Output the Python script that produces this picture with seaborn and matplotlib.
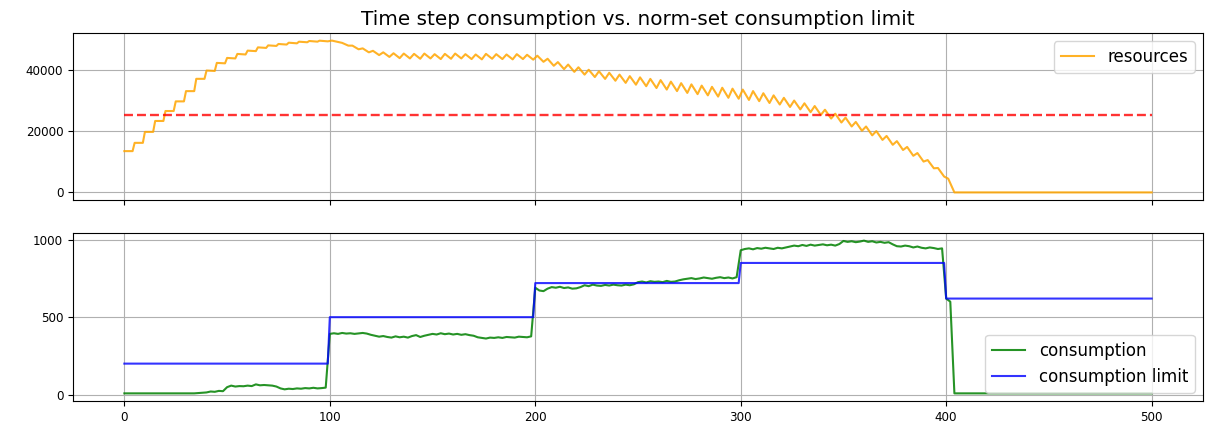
import numpy as np
import pandas as pd
import matplotlib
matplotlib.use("Agg")
import matplotlib.pyplot as plt
import seaborn as sns

# ---------------- data ----------------
# resources: value at the high (peak) and low (trough) point of each 5-step block, t = 0..404
res_peak = [13530, 16240, 19830, 23410, 26670, 29830, 33190, 37220, 39940, 42440,
            44070, 45380, 46460, 47530, 48180, 48640, 49060, 49390, 49620, 49720,
            49750, 49000, 48100, 47200, 46400, 45900, 45600, 45500, 45400, 45500,
            45300, 45400, 45500, 45300, 45200, 45400, 45300, 45200, 45300, 45100,
            44800, 43800, 42700, 41900, 41000, 40200, 39700, 39200, 38600, 38100,
            37700, 37200, 36800, 36300, 35800, 35400, 35000, 34600, 34300, 34000,
            33700, 33200, 32500, 31800, 31000, 30100, 29200, 28300, 27100, 25800,
            24500, 23100, 21600, 20100, 18500, 16800, 14900, 12900, 10600, 8000,
            4500]
res_trough = [13530, 16240, 19830, 23410, 26670, 29830, 33190, 37220, 39800, 42300,
              43900, 45200, 46300, 47350, 48000, 48450, 48850, 49200, 49400, 49500,
              49300, 48100, 46900, 45900, 45000, 44400, 44000, 43900, 43800, 43900,
              43700, 43800, 43900, 43700, 43600, 43800, 43700, 43600, 43700, 43500,
              42800, 41500, 40400, 39500, 38600, 37800, 37200, 36600, 35900, 35300,
              34800, 34200, 33700, 33200, 32600, 32200, 31800, 31400, 31000, 30700,
              30300, 29900, 29300, 28800, 28000, 27200, 26300, 25400, 24200, 22900,
              21600, 20200, 18700, 17200, 15600, 13900, 12000, 10100, 7900, 5200,
              0]
res_block_len = 5
res_stair_blocks = 20          # blocks drawn as flat stairs (t < 100)
res_final_t = 500
res_final_value = 0

norm_limit = 25500
time_steps = np.arange(0, 501)

# consumption sampled every 2 time steps
cons_step = 2
cons_0_98 = [8] * 18 + [10, 12, 14, 20, 18, 24, 22] + [
    48, 58, 52, 55, 54, 58, 55, 66, 60, 62, 60, 58, 52, 40, 34, 38, 36, 40, 38, 42,
    40, 44, 40, 42, 45]
cons_100_198 = [392, 396, 392, 398, 394, 396, 392, 395, 398, 394,
                386, 380, 374, 378, 372, 368, 376, 370, 374, 368,
                378, 384, 372, 380, 386, 392, 388, 396, 390, 394,
                388, 392, 386, 390, 384, 380, 370, 366, 362, 368,
                366, 370, 366, 372, 370, 368, 374, 372, 370, 376]
cons_200_298 = [690, 672, 668, 684, 694, 690, 696, 688, 692, 684,
                686, 694, 706, 700, 710, 704, 702, 708, 704, 710,
                706, 704, 710, 706, 712, 726, 730, 724, 732, 728,
                730, 726, 734, 728, 730, 738, 744, 748, 752, 746,
                750, 756, 752, 748, 754, 758, 752, 756, 750, 758]
cons_300_398 = [932, 940, 944, 938, 946, 942, 948, 944, 940, 948,
                944, 950, 956, 962, 958, 966, 960, 968, 962, 966,
                970, 964, 968, 962, 972, 992, 986, 990, 984, 988,
                994, 986, 990, 982, 986, 980, 984, 970, 958, 956,
                962, 958, 950, 956, 948, 944, 950, 946, 940, 944]
cons_400_500 = [620, 600] + [8] * 49

# consumption limit per period of 100 steps
limit_levels = [200, 500, 720, 850, 620]
limit_period = 100

# ---------------- build tables ----------------
nb = len(res_peak)
blk_t = np.arange(nb) * res_block_len
peak_t = blk_t + np.where(np.arange(nb) < res_stair_blocks, 0, 1)
trough_t = blk_t + res_block_len - 1
res_t = np.concatenate([np.column_stack([peak_t, trough_t]).ravel(), [res_final_t]])
res_v = np.concatenate([np.column_stack([res_peak, res_trough]).ravel(), [res_final_value]])
df_res = pd.DataFrame({"t": res_t, "resources": res_v})

cons = cons_0_98 + cons_100_198 + cons_200_298 + cons_300_398 + cons_400_500
cons_t = np.arange(len(cons)) * cons_step
df_cons = pd.DataFrame({"t": cons_t, "consumption": cons})

lim_idx = np.minimum(time_steps // limit_period, len(limit_levels) - 1)
df_lim = pd.DataFrame({"t": time_steps, "limit": np.array(limit_levels)[lim_idx]})
df_norm = pd.DataFrame({"t": time_steps, "norm": np.full(len(time_steps), norm_limit)})

# ---------------- plot ----------------
plt.rcParams["axes.grid"] = True
plt.rcParams["font.family"] = ["DejaVu Sans"]

fig = plt.figure(figsize=(12.06, 4.28), dpi=100)
ax1 = fig.add_axes([73 / 1206, 1 - 200 / 428, 1130 / 1206, 167 / 428])
ax2 = fig.add_axes([73 / 1206, 1 - 401 / 428, 1130 / 1206, 168 / 428], sharex=ax1)

sns.lineplot(data=df_res, x="t", y="resources", ax=ax1, color="orange", alpha=0.85,
             lw=1.5, estimator=None, label="resources")
sns.lineplot(data=df_norm, x="t", y="norm", ax=ax1, color="red", alpha=0.8,
             lw=1.7, estimator=None, linestyle=(0, (3.8, 1.7)))

sns.lineplot(data=df_cons, x="t", y="consumption", ax=ax2, color="green", alpha=0.85,
             lw=1.5, estimator=None, label="consumption")
sns.lineplot(data=df_lim, x="t", y="limit", ax=ax2, color="blue", alpha=0.8,
             lw=1.5, estimator=None, label="consumption limit")

for ax in (ax1, ax2):
    ax.set_xlabel("")
    ax.set_ylabel("")
    ax.grid(True, color="#b0b0b0", lw=0.8)
    ax.tick_params(labelsize=8.6)
ax1.tick_params(labelbottom=False)
ax1.set_xticks([0, 100, 200, 300, 400, 500])
ax1.set_yticks([0, 20000, 40000])
ax2.set_yticks([0, 500, 1000])

ax1.set_title("Time step consumption vs. norm-set consumption limit", fontsize=14.4)
ax1.legend(loc="upper right", fontsize=12)
ax2.legend(loc="lower right", fontsize=12)

fig.savefig("out.png", dpi=100)
